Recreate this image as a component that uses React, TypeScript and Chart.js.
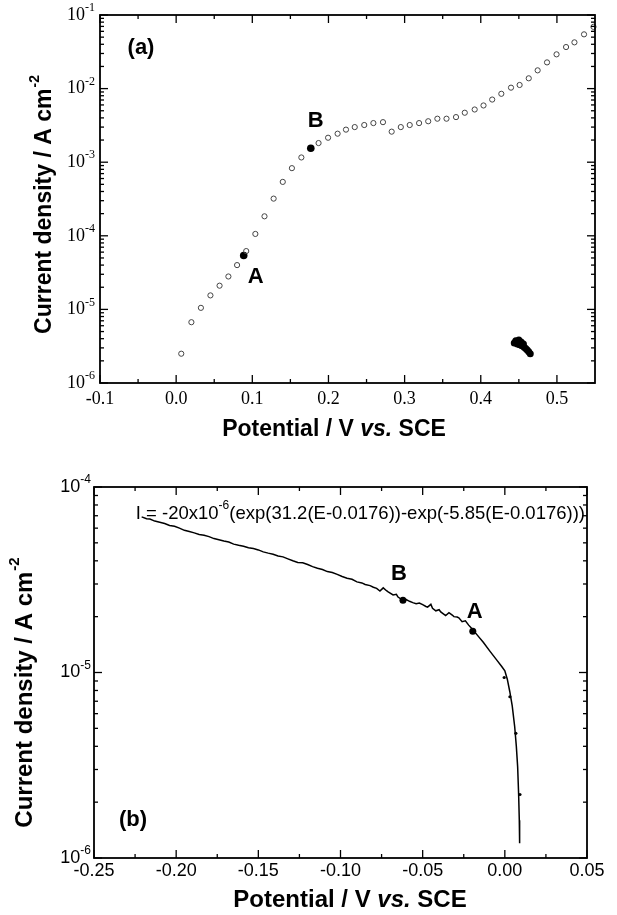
import React, { useEffect, useRef } from "react";
import { Chart, registerables } from "chart.js";

Chart.register(...registerables);

// ---------------- Panel (a) data ----------------
const aPotential = [
  0.0067, 0.02, 0.0325, 0.045, 0.057, 0.0686, 0.08, 0.092, 0.104, 0.116, 0.128, 0.14,
  0.152, 0.1644, 0.187, 0.1995, 0.212, 0.223, 0.2345, 0.247, 0.259, 0.2716, 0.283,
  0.295, 0.3067, 0.319, 0.331, 0.343, 0.355, 0.3675, 0.379, 0.392, 0.4036, 0.415,
  0.427, 0.4397, 0.451, 0.463, 0.4747, 0.487, 0.4995, 0.512, 0.523, 0.5356, 0.548,
];
const aCurrent = [
  2.5e-6, 6.7e-6, 1.05e-5, 1.55e-5, 2.1e-5, 2.8e-5, 4.0e-5, 6.2e-5, 1.06e-4, 1.84e-4,
  3.2e-4, 5.4e-4, 8.3e-4, 1.16e-3, 1.82e-3, 2.15e-3, 2.44e-3, 2.77e-3, 3.0e-3, 3.2e-3,
  3.4e-3, 3.5e-3, 2.6e-3, 3.0e-3, 3.2e-3, 3.4e-3, 3.6e-3, 3.9e-3, 3.9e-3, 4.1e-3,
  4.7e-3, 5.2e-3, 5.9e-3, 7.1e-3, 8.5e-3, 1.03e-2, 1.12e-2, 1.38e-2, 1.77e-2,
  2.27e-2, 2.92e-2, 3.67e-2, 4.25e-2, 5.46e-2, 6.9e-2,
];
const aMarkerPotential = [0.0887, 0.1768];
const aMarkerCurrent = [5.4e-5, 1.55e-3];
const aBlobPotential = [0.444, 0.446, 0.448, 0.45, 0.451, 0.453, 0.454, 0.456, 0.457, 0.459, 0.461, 0.463, 0.465];
const aBlobCurrent = [3.5e-6, 3.75e-6, 3.4e-6, 3.85e-6, 3.3e-6, 3.6e-6, 3.2e-6, 3.4e-6, 3.05e-6, 2.95e-6, 2.8e-6, 2.65e-6, 2.5e-6];
const aXTickValues = [-0.1, 0, 0.1, 0.2, 0.3, 0.4, 0.5];
const aXTickLabels = ["-0.1", "0.0", "0.1", "0.2", "0.3", "0.4", "0.5"];
const aYDecades = [-6, -5, -4, -3, -2, -1];

// ---------------- Panel (b) data ----------------
const bPotential = [
  -0.221, -0.218, -0.216, -0.213, -0.21, -0.207, -0.204, -0.201, -0.198, -0.195, -0.192,
  -0.189, -0.186, -0.183, -0.18, -0.177, -0.174, -0.171, -0.168, -0.165, -0.162, -0.159,
  -0.156, -0.153, -0.15, -0.147, -0.144, -0.141, -0.138, -0.135, -0.132, -0.129, -0.126,
  -0.123, -0.12, -0.117, -0.114, -0.111, -0.108, -0.105, -0.102, -0.099, -0.096, -0.093,
  -0.09, -0.087, -0.085, -0.082, -0.08, -0.078, -0.076, -0.074, -0.072, -0.071, -0.068,
  -0.066, -0.065, -0.062, -0.06, -0.058, -0.056, -0.054, -0.052, -0.05, -0.048, -0.047,
  -0.045, -0.044, -0.042, -0.04, -0.039, -0.037, -0.036, -0.034, -0.032, -0.031, -0.029,
  -0.028, -0.026, -0.024, -0.022, -0.02, -0.017, -0.013, -0.009, -0.005, -0.002, 0.0,
  0.0015, 0.003, 0.0045, 0.006, 0.007, 0.0078, 0.0084, 0.0088, 0.009,
];
const bCurrent = [
  6.9e-5, 6.75e-5, 6.72e-5, 6.55e-5, 6.45e-5, 6.36e-5, 6.2e-5, 6.14e-5, 6.0e-5, 5.84e-5,
  5.75e-5, 5.66e-5, 5.55e-5, 5.5e-5, 5.4e-5, 5.27e-5, 5.2e-5, 5.12e-5, 5.05e-5, 4.92e-5,
  4.85e-5, 4.79e-5, 4.7e-5, 4.66e-5, 4.58e-5, 4.47e-5, 4.4e-5, 4.34e-5, 4.25e-5, 4.2e-5,
  4.1e-5, 4.0e-5, 3.92e-5, 3.9e-5, 3.82e-5, 3.72e-5, 3.65e-5, 3.59e-5, 3.5e-5, 3.46e-5,
  3.38e-5, 3.29e-5, 3.22e-5, 3.18e-5, 3.08e-5, 3.04e-5, 2.98e-5, 2.94e-5, 2.88e-5,
  2.84e-5, 2.75e-5, 2.86e-5, 2.76e-5, 2.72e-5, 2.62e-5, 2.64e-5, 2.55e-5, 2.45e-5,
  2.47e-5, 2.42e-5, 2.38e-5, 2.35e-5, 2.37e-5, 2.32e-5, 2.27e-5, 2.25e-5, 2.33e-5,
  2.22e-5, 2.15e-5, 2.18e-5, 2.12e-5, 2.06e-5, 2.03e-5, 2.1e-5, 2.04e-5, 2.0e-5, 1.99e-5,
  1.97e-5, 1.88e-5, 1.9e-5, 1.8e-5, 1.72e-5, 1.6e-5, 1.45e-5, 1.3e-5, 1.17e-5, 1.08e-5,
  1.02e-5, 9.2e-6, 7.9e-6, 6.6e-6, 5.1e-6, 4.0e-6, 3.1e-6, 2.2e-6, 1.6e-6, 1.2e-6,
];
const bMarkerPotential = [-0.0195, -0.062];
const bMarkerCurrent = [1.67e-5, 2.45e-5];
const bDotPotential = [-0.0004, 0.0031, 0.0067, 0.0092];
const bDotCurrent = [9.4e-6, 7.4e-6, 4.7e-6, 2.2e-6];
const bXTickValues = [-0.25, -0.2, -0.15, -0.1, -0.05, 0, 0.05];
const bXTickLabels = ["-0.25", "-0.20", "-0.15", "-0.10", "-0.05", "0.00", "0.05"];
const bYDecades = [-6, -5, -4];
const bEquationMain = "I = -20x10";
const bEquationExp = "-6";
const bEquationRest = "(exp(31.2(E-0.0176))-exp(-5.85(E-0.0176)))";

const SANS = "'Liberation Sans', Arial, Helvetica, sans-serif";
const SERIF = "'Liberation Serif', 'Times New Roman', Times, serif";

const pts = (xs: number[], ys: number[]) => xs.map((x, i) => ({ x, y: ys[i] }));

type PanelSpec = {
  xTicks: number[];
  xLabels: string[];
  decades: number[];
  tickFont: string;
  expFont: string;
  expRaise: number;
  xLabelY: number;
  yLabelGap: number;
  titleSize: number;
  xTitle: { x: number; y: number };
  yTitle: { x: number; y: number };
  extra: (ctx: CanvasRenderingContext2D, chart: any) => void;
};

function drawXTitle(ctx: CanvasRenderingContext2D, cx: number, cy: number, size: number) {
  const parts = [
    { t: "Potential / V ", f: `bold ${size}px ${SANS}` },
    { t: "vs.", f: `italic bold ${size}px ${SANS}` },
    { t: " SCE", f: `bold ${size}px ${SANS}` },
  ];
  let total = 0;
  const ws = parts.map((p) => {
    ctx.font = p.f;
    const w = ctx.measureText(p.t).width;
    total += w;
    return w;
  });
  let x = cx - total / 2;
  ctx.textAlign = "left";
  ctx.textBaseline = "middle";
  parts.forEach((p, i) => {
    ctx.font = p.f;
    ctx.fillText(p.t, x, cy);
    x += ws[i];
  });
}

function drawYTitle(ctx: CanvasRenderingContext2D, cx: number, cy: number, size: number) {
  ctx.save();
  ctx.translate(cx, cy);
  ctx.rotate(-Math.PI / 2);
  const main = "Current density / A cm";
  const sup = "-2";
  const mf = `bold ${size}px ${SANS}`;
  const sf = `bold ${Math.round(size * 0.62)}px ${SANS}`;
  ctx.font = mf;
  const wm = ctx.measureText(main).width;
  ctx.font = sf;
  const ws = ctx.measureText(sup).width;
  const x0 = -(wm + ws) / 2;
  ctx.textAlign = "left";
  ctx.textBaseline = "middle";
  ctx.font = mf;
  ctx.fillText(main, x0, 0);
  ctx.font = sf;
  ctx.fillText(sup, x0 + wm + 1, -size * 0.42);
  ctx.restore();
}

function framePlugin(spec: PanelSpec) {
  return {
    id: "frame",
    afterDatasetsDraw(chart: any) {
      const ctx: CanvasRenderingContext2D = chart.ctx;
      const { left, right, top, bottom } = chart.chartArea;
      const xs = chart.scales.x;
      const ys = chart.scales.y;
      ctx.save();
      ctx.fillStyle = "#000";
      ctx.strokeStyle = "#000";
      ctx.lineWidth = 1.8;
      ctx.strokeRect(left, top, right - left, bottom - top);
      ctx.lineWidth = 1.3;
      const line = (x1: number, y1: number, x2: number, y2: number) => {
        ctx.beginPath();
        ctx.moveTo(x1, y1);
        ctx.lineTo(x2, y2);
        ctx.stroke();
      };
      const xt = spec.xTicks;
      for (let i = 0; i < xt.length; i++) {
        const px = xs.getPixelForValue(xt[i]);
        line(px, bottom, px, bottom - 8);
        line(px, top, px, top + 8);
        if (i < xt.length - 1) {
          const mx = xs.getPixelForValue((xt[i] + xt[i + 1]) / 2);
          line(mx, bottom, mx, bottom - 4);
          line(mx, top, mx, top + 4);
        }
        ctx.font = spec.tickFont;
        ctx.textAlign = "center";
        ctx.textBaseline = "middle";
        ctx.fillText(spec.xLabels[i], px, spec.xLabelY);
      }
      const dec = spec.decades;
      for (let i = 0; i < dec.length; i++) {
        const v = Math.pow(10, dec[i]);
        const py = ys.getPixelForValue(v);
        line(left, py, left + 8, py);
        line(right, py, right - 8, py);
        if (i < dec.length - 1) {
          for (let k = 2; k <= 9; k++) {
            const my = ys.getPixelForValue(k * v);
            line(left, my, left + 4, my);
            line(right, my, right - 4, my);
          }
        }
        const exp = String(dec[i]);
        ctx.textBaseline = "middle";
        ctx.font = spec.expFont;
        const ew = ctx.measureText(exp).width;
        const ex = left - spec.yLabelGap - ew;
        ctx.textAlign = "left";
        ctx.fillText(exp, ex, py - spec.expRaise);
        ctx.font = spec.tickFont;
        ctx.textAlign = "right";
        ctx.fillText("10", ex, py);
      }
      drawXTitle(ctx, spec.xTitle.x, spec.xTitle.y, spec.titleSize);
      drawYTitle(ctx, spec.yTitle.x, spec.yTitle.y, spec.titleSize);
      spec.extra(ctx, chart);
      ctx.restore();
    },
  };
}

function drawBold(ctx: CanvasRenderingContext2D, t: string, x: number, y: number, size: number) {
  ctx.font = `bold ${size}px ${SANS}`;
  ctx.textAlign = "center";
  ctx.textBaseline = "middle";
  ctx.fillText(t, x, y);
}

export default function App() {
  const refA = useRef<HTMLCanvasElement>(null);
  const refB = useRef<HTMLCanvasElement>(null);

  useEffect(() => {
    const specA: PanelSpec = {
      xTicks: aXTickValues,
      xLabels: aXTickLabels,
      decades: aYDecades,
      tickFont: `18px ${SERIF}`,
      expFont: `12px ${SERIF}`,
      expRaise: 7,
      xLabelY: 399,
      yLabelGap: 5,
      titleSize: 23,
      xTitle: { x: 334, y: 430 },
      yTitle: { x: 45, y: 205 },
      extra: (ctx, chart) => {
        const xs = chart.scales.x;
        const ys = chart.scales.y;
        const { left, top } = chart.chartArea;
        drawBold(ctx, "(a)", left + 41, top + 33, 22);
        const ax = xs.getPixelForValue(aMarkerPotential[0]);
        const ay = ys.getPixelForValue(aMarkerCurrent[0]);
        drawBold(ctx, "A", ax + 12, ay + 21, 22);
        const bx = xs.getPixelForValue(aMarkerPotential[1]);
        const by = ys.getPixelForValue(aMarkerCurrent[1]);
        drawBold(ctx, "B", bx + 5, by - 27, 22);
      },
    };
    const chartA = new Chart(refA.current as HTMLCanvasElement, {
      type: "scatter",
      data: {
        datasets: [
          {
            data: pts(aPotential, aCurrent),
            pointRadius: 2.6,
            pointBorderWidth: 1,
            pointBorderColor: "#444",
            pointBackgroundColor: "rgba(255,255,255,0)",
          },
          {
            data: pts(aMarkerPotential, aMarkerCurrent),
            pointRadius: 3.8,
            pointBorderWidth: 0,
            pointBackgroundColor: "#000",
          },
          {
            data: pts(aBlobPotential, aBlobCurrent),
            pointRadius: 3.5,
            pointBorderWidth: 0,
            pointBackgroundColor: "#000",
          },
        ],
      },
      options: {
        animation: false,
        responsive: false,
        events: [],
        clip: false,
        layout: { padding: { left: 100, right: 22, top: 15, bottom: 77 } },
        plugins: { legend: { display: false }, tooltip: { enabled: false } },
        scales: {
          x: { type: "linear", min: -0.1, max: 0.55, display: false },
          y: { type: "logarithmic", min: 1e-6, max: 1e-1, display: false },
        },
      } as any,
      plugins: [framePlugin(specA)],
    });

    const specB: PanelSpec = {
      xTicks: bXTickValues,
      xLabels: bXTickLabels,
      decades: bYDecades,
      tickFont: `18px ${SANS}`,
      expFont: `12px ${SANS}`,
      expRaise: 7,
      xLabelY: 411,
      yLabelGap: 3,
      titleSize: 24,
      xTitle: { x: 350, y: 440 },
      yTitle: { x: 25, y: 233 },
      extra: (ctx, chart) => {
        const xs = chart.scales.x;
        const ys = chart.scales.y;
        const { left, right, top, bottom } = chart.chartArea;
        drawBold(ctx, "(b)", left + 39, bottom - 38, 22);
        const ax = xs.getPixelForValue(bMarkerPotential[0]);
        const ay = ys.getPixelForValue(bMarkerCurrent[0]);
        drawBold(ctx, "A", ax + 2, ay - 19, 22);
        const bx = xs.getPixelForValue(bMarkerPotential[1]);
        const by = ys.getPixelForValue(bMarkerCurrent[1]);
        drawBold(ctx, "B", bx - 4, by - 26, 22);
        const f1 = `18.5px ${SANS}`;
        const f2 = `12px ${SANS}`;
        ctx.font = f1;
        const w1 = ctx.measureText(bEquationMain).width;
        const w3 = ctx.measureText(bEquationRest).width;
        ctx.font = f2;
        const w2 = ctx.measureText(bEquationExp).width;
        const total = w1 + w2 + w3;
        let x = right - 2 - total;
        const y = top + 27;
        ctx.textAlign = "left";
        ctx.textBaseline = "middle";
        ctx.font = f1;
        ctx.fillText(bEquationMain, x, y);
        x += w1;
        ctx.font = f2;
        ctx.fillText(bEquationExp, x, y - 8);
        x += w2;
        ctx.font = f1;
        ctx.fillText(bEquationRest, x, y);
      },
    };
    const chartB = new Chart(refB.current as HTMLCanvasElement, {
      type: "scatter",
      data: {
        datasets: [
          {
            data: pts(bPotential, bCurrent),
            showLine: true,
            borderColor: "#000",
            borderWidth: 1.5,
            pointRadius: 0,
            tension: 0,
          },
          {
            data: pts(bMarkerPotential, bMarkerCurrent),
            pointRadius: 3.5,
            pointBorderWidth: 0,
            pointBackgroundColor: "#000",
          },
          {
            data: pts(bDotPotential, bDotCurrent),
            pointRadius: 1.6,
            pointBorderWidth: 0,
            pointBackgroundColor: "#000",
          },
        ],
      },
      options: {
        animation: false,
        responsive: false,
        events: [],
        clip: false,
        layout: { padding: { left: 94, right: 30, top: 27, bottom: 57 } },
        plugins: { legend: { display: false }, tooltip: { enabled: false } },
        scales: {
          x: { type: "linear", min: -0.25, max: 0.05, display: false },
          y: { type: "logarithmic", min: 1e-6, max: 1e-4, display: false },
        },
      } as any,
      plugins: [framePlugin(specB)],
    });

    return () => {
      chartA.destroy();
      chartB.destroy();
    };
  }, []);

  return (
    <div
      style={{
        position: "absolute",
        left: 0,
        top: 0,
        width: 617,
        height: 915,
        background: "#fff",
        overflow: "hidden",
      }}
    >
      <canvas
        ref={refA}
        width={617}
        height={460}
        style={{ position: "absolute", left: 0, top: 0, width: 617, height: 460 }}
      />
      <canvas
        ref={refB}
        width={617}
        height={455}
        style={{ position: "absolute", left: 0, top: 460, width: 617, height: 455 }}
      />
    </div>
  );
}
